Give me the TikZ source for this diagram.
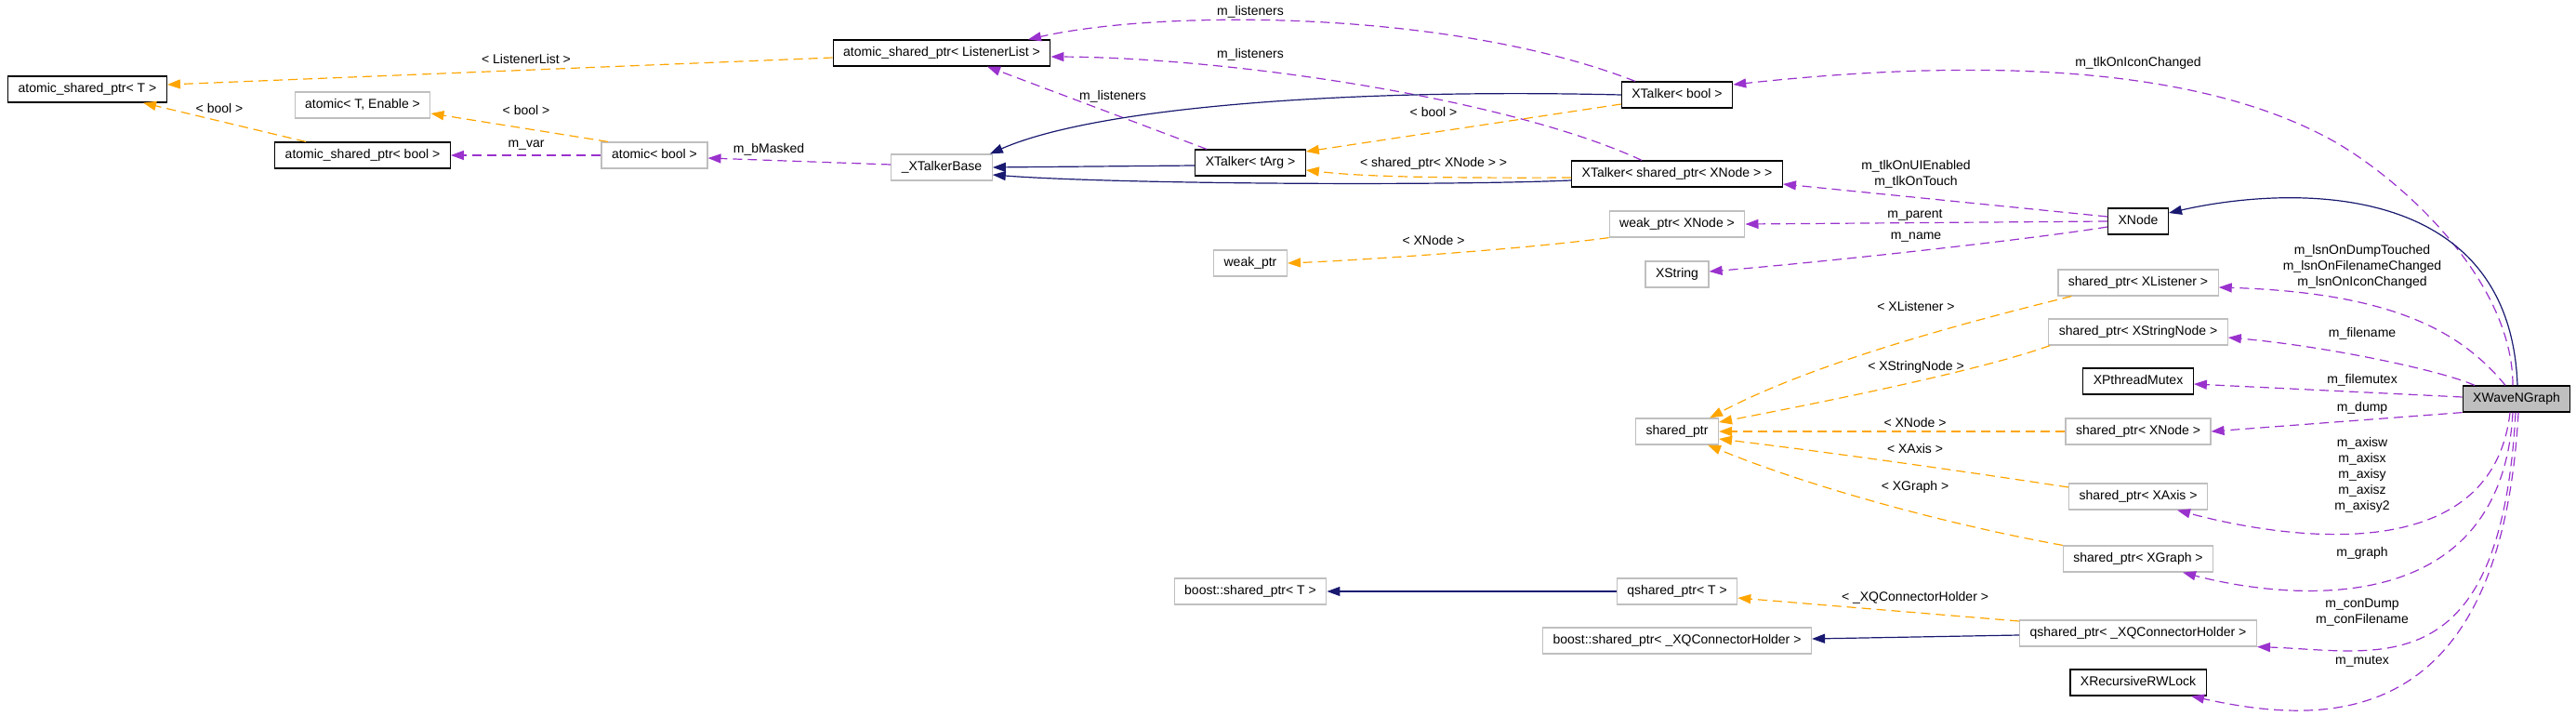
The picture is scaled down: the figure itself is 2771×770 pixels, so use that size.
\documentclass[tikz,border=0pt]{standalone}
\usepackage{fontspec}
\setmainfont{Liberation Sans}
\usetikzlibrary{arrows.meta}
\definecolor{inheritblue}{RGB}{25,25,112}
\definecolor{memberpurple}{RGB}{154,50,205}
\definecolor{templorange}{RGB}{255,165,0}
\definecolor{undocgray}{RGB}{191,191,191}

\begin{document}
\begin{tikzpicture}[x=1pt, y=-1pt,
    font=\fontsize{14}{17}\selectfont,
    cls/.style={draw=black, line width=1.2pt, fill=white, minimum height=28pt,
        inner xsep=11pt, inner ysep=0pt, text height=10pt, text depth=3pt},
    extcls/.style={cls, draw=undocgray},
    rootcls/.style={cls, fill=undocgray},
    lbl/.style={align=center, inner sep=0pt},
    uses/.style={draw=memberpurple, line width=1.2pt, dash pattern=on 10pt off 6pt,
        -{Triangle[length=14pt, width=10pt]}},
    inst/.style={uses, draw=templorange},
    isa/.style={draw=inheritblue, line width=1.2pt, -{Triangle[length=14pt, width=10pt]}}]
    \useasboundingbox (0,0) rectangle (2771,770);

    \node[cls] (aspT) at (94,96) {atomic\_shared\_ptr< T >};
    \node[cls] (aspLL) at (1013,57) {atomic\_shared\_ptr< ListenerList >};
    \node[extcls] (atomicTE) at (390,113) {atomic< T, Enable >};
    \node[cls] (aspBool) at (390,167) {atomic\_shared\_ptr< bool >};
    \node[extcls] (atomicBool) at (704,167) {atomic< bool >};
    \node[extcls] (xtBase) at (1013,180) {\_XTalkerBase};
    \node[cls] (xtArg) at (1345,175) {XTalker< tArg >};
    \node[cls] (xtBool) at (1804,102) {XTalker< bool >};
    \node[cls] (xtSP) at (1804,187) {XTalker< shared\_ptr< XNode > >};
    \node[extcls] (weakXNode) at (1804,241) {weak\_ptr< XNode >};
    \node[extcls] (xString) at (1804,295) {XString};
    \node[extcls] (weakPtr) at (1345,283) {weak\_ptr};
    \node[cls] (xNode) at (2300,238) {XNode};
    \node[extcls] (spListener) at (2300,304) {shared\_ptr< XListener >};
    \node[extcls] (spStrNode) at (2300,357) {shared\_ptr< XStringNode >};
    \node[cls] (pMutex) at (2300,410) {XPthreadMutex};
    \node[rootcls] (wave) at (2707,429) {XWaveNGraph};
    \node[extcls] (spXNode) at (2300,464) {shared\_ptr< XNode >};
    \node[extcls] (spAxis) at (2300,534) {shared\_ptr< XAxis >};
    \node[extcls] (spGraph) at (2300,601) {shared\_ptr< XGraph >};
    \node[extcls] (qspConn) at (2300,681) {qshared\_ptr< \_XQConnectorHolder >};
    \node[cls] (rwLock) at (2300,734) {XRecursiveRWLock};
    \node[extcls] (sharedPtr) at (1804,464) {shared\_ptr};
    \node[extcls] (qspT) at (1804,636) {qshared\_ptr< T >};
    \node[extcls] (boostConn) at (1804,689) {boost::shared\_ptr< \_XQConnectorHolder >};
    \node[extcls] (boostT) at (1345,636) {boost::shared\_ptr< T >};

    \node[lbl] (lListenerList) at (566,63) {< ListenerList >};
    \node[lbl] (lBoolA) at (236,116) {< bool >};
    \node[lbl] (lBoolB) at (566,118) {< bool >};
    \node[lbl] (lVar) at (566,156) {m\_var};
    \node[lbl] (lMasked) at (827,161) {m\_bMasked};
    \node[lbl] (lLsnTop) at (1345,13) {m\_listeners};
    \node[lbl] (lLsnMid) at (1345,59) {m\_listeners};
    \node[lbl] (lLsnArg) at (1197,104) {m\_listeners};
    \node[lbl] (lBoolC) at (1542,120) {< bool >};
    \node[lbl] (lSPXNode) at (1542,176) {< shared\_ptr< XNode > >};
    \node[lbl] (lIcon) at (2300,68) {m\_tlkOnIconChanged};
    \node[lbl] (lTlk) at (2061,187) {m\_tlkOnUIEnabled\\m\_tlkOnTouch};
    \node[lbl] (lParent) at (2060,231) {m\_parent};
    \node[lbl] (lName) at (2061,255) {m\_name};
    \node[lbl] (lXNodeA) at (1542,258) {< XNode >};
    \node[lbl] (lXListener) at (2061,329) {< XListener >};
    \node[lbl] (lXStrNode) at (2061,395) {< XStringNode >};
    \node[lbl] (lXNodeB) at (2060,454) {< XNode >};
    \node[lbl] (lXAxis) at (2060,482) {< XAxis >};
    \node[lbl] (lXGraph) at (2060,524) {< XGraph >};
    \node[lbl] (lConnHolder) at (2060,643) {< \_XQConnectorHolder >};
    \node[lbl] (lLsn) at (2541,287) {m\_lsnOnDumpTouched\\m\_lsnOnFilenameChanged\\m\_lsnOnIconChanged};
    \node[lbl] (lFilename) at (2541,359) {m\_filename};
    \node[lbl] (lFilemutex) at (2541,409) {m\_filemutex};
    \node[lbl] (lDump) at (2541,439) {m\_dump};
    \node[lbl] (lAxis) at (2541,511) {m\_axisw\\m\_axisx\\m\_axisy\\m\_axisz\\m\_axisy2};
    \node[lbl] (lGraph) at (2541,595) {m\_graph};
    \node[lbl] (lCon) at (2541,659) {m\_conDump\\m\_conFilename};
    \node[lbl] (lMutex) at (2541,711) {m\_mutex};

    \draw[inst] ([yshift=-5pt]aspLL.west) -- ([yshift=5pt]aspT.east);
    \draw[inst] ([xshift=-61pt]aspBool.north) -- ([xshift=60pt]aspT.south);
    \draw[inst] ([xshift=-50pt]atomicBool.north) -- ([yshift=-9pt]atomicTE.east);
    \draw[uses] (atomicBool.west) -- (aspBool.east);
    \draw[uses] ([yshift=3pt]xtBase.west) -- ([yshift=-3pt]atomicBool.east);
    \draw[uses] ([xshift=-47pt]xtArg.north) -- ([xshift=49pt]aspLL.south);
    \draw[uses] ([xshift=-45pt]xtBool.north) .. controls (1560,10) and (1250,10) .. ([xshift=93pt]aspLL.north);
    \draw[uses] ([xshift=-38pt]xtSP.north) .. controls (1620,105) and (1320,62) .. ([yshift=-4pt]aspLL.east);
    \draw[isa] (xtBool.west) .. controls (1450,95) and (1180,115) .. ([xshift=-3pt]xtBase.north east);
    \draw[isa] ([yshift=-3pt]xtArg.west) -- (xtBase.east);
    \draw[isa] ([yshift=-7pt]xtSP.west) .. controls (1550,200) and (1200,198) .. ([yshift=-8pt]xtBase.east);
    \draw[inst] ([yshift=-10pt]xtBool.west) -- ([yshift=12pt]xtArg.east);
    \draw[inst] ([yshift=-4pt]xtSP.west) .. controls (1500,192) and (1450,188) .. ([yshift=-8pt]xtArg.east);

    \draw[uses] ([xshift=-4pt]wave.north) .. controls (2703,300) and (2580,190) .. (2507,150)
        .. controls (2370,75) and (2150,60) .. ([yshift=11pt]xtBool.east);
    \draw[uses] ([yshift=5pt]xNode.west) -- ([yshift=-11pt]xtSP.east);
    \draw[uses] (xNode.west) -- (weakXNode.east);
    \draw[uses] ([yshift=-6pt]xNode.west) .. controls (2180,258) and (1960,282) .. ([yshift=3pt]xString.east);
    \draw[inst] (weakXNode.south west) .. controls (1640,268) and (1460,280) .. (weakPtr.east);
    \draw[isa] ([xshift=1pt]wave.north) .. controls (2700,190) and (2460,200) .. ([yshift=9pt]xNode.east);

    \draw[uses] ([xshift=-12pt]wave.north) .. controls (2650,360) and (2580,315) .. ([yshift=-5pt]spListener.east);
    \draw[uses] ([xshift=-45pt]wave.north) .. controls (2625,398) and (2500,372) .. ([yshift=-6pt]spStrNode.east);
    \draw[uses] ([yshift=2pt]wave.west) -- ([yshift=-3pt]pMutex.east);
    \draw[uses] (wave.south west) -- (spXNode.east);
    \draw[uses] ([xshift=-7pt]wave.south) .. controls (2680,620) and (2440,575) .. ([xshift=42pt]spAxis.south);
    \draw[uses] ([xshift=-4pt]wave.south) .. controls (2690,680) and (2440,640) .. ([xshift=48pt]spGraph.south);
    \draw[uses] ([xshift=-1pt]wave.south) .. controls (2690,740) and (2560,700) .. (qspConn.south east);
    \draw[uses] ([xshift=2pt]wave.south) .. controls (2690,790) and (2500,780) .. ([xshift=57pt]rwLock.south);

    \draw[inst] ([xshift=15pt]spListener.south west) .. controls (2150,338) and (1960,385) .. ([xshift=-10pt]sharedPtr.north east);
    \draw[inst] ([xshift=2pt]spStrNode.south west) .. controls (2140,395) and (2000,425) .. ([yshift=10pt]sharedPtr.east);
    \draw[inst] (spXNode.west) -- (sharedPtr.east);
    \draw[inst] ([yshift=10pt]spAxis.west) .. controls (2120,508) and (1980,488) .. ([yshift=-8pt]sharedPtr.east);
    \draw[inst] (spGraph.north west) .. controls (2100,565) and (1950,525) .. ([xshift=-12pt]sharedPtr.south east);

    \draw[inst] ([yshift=13pt]qspConn.west) -- ([yshift=-7pt]qspT.east);
    \draw[isa] (qspT.west) -- (boostT.east);
    \draw[isa] ([yshift=-2pt]qspConn.west) -- ([yshift=2pt]boostConn.east);
\end{tikzpicture}
\end{document}
